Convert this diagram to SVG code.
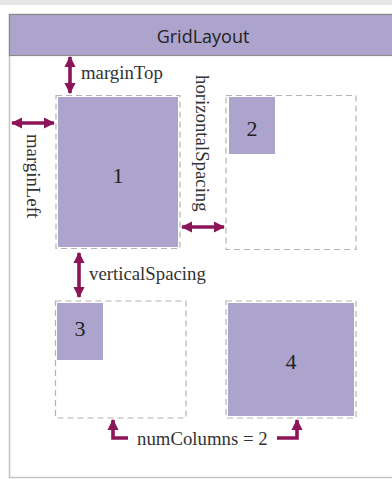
<svg xmlns="http://www.w3.org/2000/svg" width="392" height="479" viewBox="0 0 392 479">
  <defs>
    <marker id="head" viewBox="0 0 10 10" refX="9" refY="5" markerWidth="3.2" markerHeight="3.4" markerUnits="strokeWidth" orient="auto-start-reverse">
      <path d="M0,0 L10,5 L0,10 Z" fill="#8c1459"/>
    </marker>
    <style>
      .cell { fill: none; stroke: #b4b4b4; stroke-width: 1.2; stroke-dasharray: 6 4; }
      .item { fill: #aca4cc; }
      .num { font-family: "Liberation Serif", serif; font-size: 22px; fill: #222; text-anchor: middle; }
      .lbl { font-family: "Liberation Serif", serif; font-size: 18.8px; fill: #333; }
      .arr { fill: none; stroke: #8c1459; stroke-width: 3.6; marker-end: url(#head); }
      .arr2 { fill: none; stroke: #8c1459; stroke-width: 3.6; marker-start: url(#head); marker-end: url(#head); }
    </style>
  </defs>

  <!-- window chrome -->
  <rect x="0" y="0" width="392" height="5" fill="#e6e6e8"/>
  <rect x="0" y="5" width="392" height="474" fill="#ffffff"/>

  <!-- layout frame -->
  <g id="frame">
    <rect x="9.5" y="14.5" width="390" height="463" fill="#ffffff" stroke="#c4c4c4" stroke-width="1.5"/>
    <rect x="9.5" y="14.5" width="390" height="41" fill="#aca4cc" stroke="#8a8a8a" stroke-width="1.2"/>
    <text x="203" y="42.5" font-family="'Open Sans', sans-serif" font-size="18" fill="#222" text-anchor="middle">GridLayout</text>
  </g>

  <!-- cells -->
  <g id="cell1">
    <rect class="cell" x="56" y="95.5" width="124" height="153"/>
    <rect class="item" x="58" y="97" width="120" height="150"/>
    <text class="num" x="118" y="183">1</text>
  </g>
  <g id="cell2">
    <rect class="cell" x="226" y="95.5" width="130" height="154"/>
    <rect class="item" x="229" y="97" width="46" height="57"/>
    <text class="num" x="252" y="136">2</text>
  </g>
  <g id="cell3">
    <rect class="cell" x="55.5" y="301" width="130.5" height="117"/>
    <rect class="item" x="57" y="303" width="46" height="57"/>
    <text class="num" x="80" y="336">3</text>
  </g>
  <g id="cell4">
    <rect class="cell" x="226" y="301" width="130" height="117"/>
    <rect class="item" x="228" y="303" width="126" height="113"/>
    <text class="num" x="291" y="369">4</text>
  </g>

  <!-- dimension arrows -->
  <g id="connectors">
    <line class="arr2" x1="70" y1="57" x2="70" y2="93"/>
    <line class="arr2" x1="12" y1="123" x2="54" y2="123"/>
    <line class="arr2" x1="182" y1="227" x2="224" y2="227"/>
    <line class="arr2" x1="79" y1="253" x2="79" y2="297"/>
    <path class="arr" d="M128,438 L113,438 L113,420"/>
    <path class="arr" d="M277,438 L297,438 L297,420"/>
  </g>

  <!-- labels -->
  <g id="labels">
    <text class="lbl" x="81" y="79">marginTop</text>
    <text class="lbl" transform="translate(27,134) rotate(90)">marginLeft</text>
    <text class="lbl" transform="translate(196,75) rotate(90)">horizontalSpacing</text>
    <text class="lbl" x="89" y="280">verticalSpacing</text>
    <text class="lbl" x="137" y="445">numColumns = 2</text>
  </g>
</svg>
